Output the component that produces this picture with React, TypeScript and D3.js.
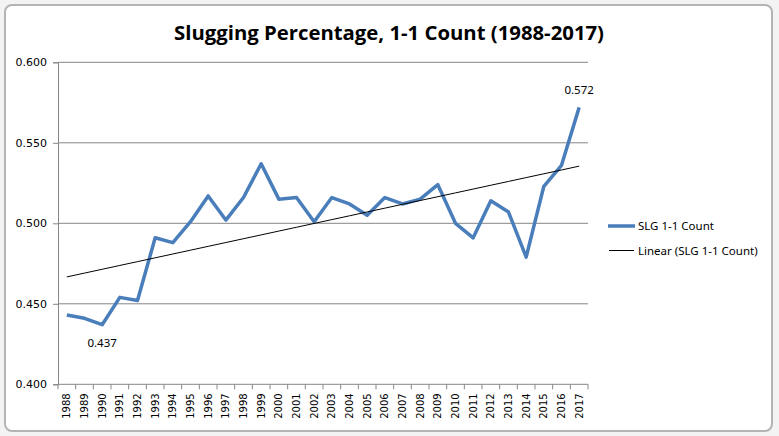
import React, { useEffect, useRef } from "react";
import * as d3 from "d3";

const years: string[] = [
  "1988", "1989", "1990", "1991", "1992", "1993", "1994", "1995", "1996", "1997",
  "1998", "1999", "2000", "2001", "2002", "2003", "2004", "2005", "2006", "2007",
  "2008", "2009", "2010", "2011", "2012", "2013", "2014", "2015", "2016", "2017",
];
const slg: number[] = [
  0.443, 0.441, 0.437, 0.454, 0.452, 0.491, 0.488, 0.501, 0.517, 0.502,
  0.516, 0.537, 0.515, 0.516, 0.501, 0.516, 0.512, 0.505, 0.516, 0.512,
  0.515, 0.524, 0.500, 0.491, 0.514, 0.507, 0.479, 0.523, 0.536, 0.572,
];
const yTicks: number[] = [0.4, 0.45, 0.5, 0.55, 0.6];
const labelled: string[] = ["1990", "2017"];
const title = "Slugging Percentage, 1-1 Count (1988-2017)";
const seriesName = "SLG 1-1 Count";
const trendName = "Linear (SLG 1-1 Count)";

const W = 779;
const H = 436;
const blue = "#4a7ebb";
const grid = "#868686";

export default function App() {
  const ref = useRef<SVGSVGElement>(null);

  useEffect(() => {
    const svg = d3.select(ref.current);
    svg.selectAll("*").remove();

    // spreadsheet behind the chart
    svg.append("rect").attr("width", W).attr("height", H).attr("fill", "#f3f3f3");
    svg.append("rect")
      .attr("x", 5).attr("y", 5).attr("width", 767).attr("height", 426)
      .attr("rx", 7)
      .attr("fill", "#fff").attr("stroke", "#b4b4b4").attr("stroke-width", 2);

    const x = d3.scaleBand().domain(years).range([58, 588]);
    const y = d3.scaleLinear().domain([0.4, 0.6]).range([384.3, 62.3]);
    const cx = (d: string) => (x(d) || 0) + x.bandwidth() / 2;

    // gridlines
    svg.append("g").selectAll("line")
      .data(yTicks.slice(1))
      .enter().append("line")
      .attr("x1", 58).attr("x2", 588)
      .attr("y1", d => y(d)).attr("y2", d => y(d))
      .attr("stroke", grid).attr("stroke-width", 1);

    // y axis
    const yAxis = svg.append("g").attr("transform", "translate(58,0)")
      .call(d3.axisLeft(y).tickValues(yTicks).tickFormat(d3.format(".3f")).tickSize(5).tickPadding(6));
    yAxis.select(".domain").attr("stroke", grid);
    yAxis.selectAll(".tick line").attr("stroke", grid);
    yAxis.selectAll("text")
      .attr("font-family", "DejaVu Sans, Verdana, sans-serif")
      .attr("font-size", 11).attr("fill", "#000");

    // x axis with ticks between categories
    const xg = svg.append("g");
    xg.append("line")
      .attr("x1", 58).attr("x2", 588)
      .attr("y1", y(0.4)).attr("y2", y(0.4))
      .attr("stroke", grid);
    const edges = years.map(d => x(d) || 0).concat([x.range()[1]]);
    xg.selectAll("line.tk")
      .data(edges)
      .enter().append("line").attr("class", "tk")
      .attr("x1", d => d).attr("x2", d => d)
      .attr("y1", y(0.4)).attr("y2", y(0.4) + 5)
      .attr("stroke", grid);
    xg.selectAll("text")
      .data(years)
      .enter().append("text")
      .attr("transform", d => `translate(${cx(d) + 3.5},${y(0.4) + 9}) rotate(-90)`)
      .attr("text-anchor", "end")
      .attr("font-family", "DejaVu Sans, Verdana, sans-serif")
      .attr("font-size", 10)
      .text(d => d);

    // linear trend (least squares on index)
    const n = slg.length;
    const xs = d3.range(n);
    const mx = d3.mean(xs) || 0;
    const my = d3.mean(slg) || 0;
    const b = d3.sum(xs, i => (i - mx) * (slg[i] - my)) / d3.sum(xs, i => (i - mx) ** 2);
    const a = my - b * mx;
    const trend = xs.map(i => a + b * i);

    const line = d3.line<number>()
      .x((_, i) => cx(years[i]))
      .y(d => y(d));

    svg.append("path")
      .datum(slg)
      .attr("d", line)
      .attr("fill", "none")
      .attr("stroke", blue)
      .attr("stroke-width", 3.5)
      .attr("stroke-linejoin", "round");

    svg.append("path")
      .datum(trend)
      .attr("d", line)
      .attr("fill", "none")
      .attr("stroke", "#000")
      .attr("stroke-width", 1);

    // data labels
    svg.selectAll("text.lbl")
      .data(labelled)
      .enter().append("text").attr("class", "lbl")
      .attr("x", d => cx(d))
      .attr("y", d => {
        const v = slg[years.indexOf(d)];
        return v === d3.min(slg) ? y(v) + 22 : y(v) - 13;
      })
      .attr("text-anchor", "middle")
      .attr("font-family", "Noto Sans, sans-serif")
      .attr("font-size", 11.5)
      .text(d => d3.format(".3f")(slg[years.indexOf(d)]));

    // title
    svg.append("text")
      .attr("x", 389).attr("y", 40)
      .attr("text-anchor", "middle")
      .attr("font-family", "Open Sans, sans-serif")
      .attr("font-weight", "bold")
      .attr("font-size", 19)
      .attr("textLength", 430)
      .attr("lengthAdjust", "spacingAndGlyphs")
      .text(title);

    // legend
    const lg = svg.append("g").attr("font-family", "Noto Sans, sans-serif").attr("font-size", 11.5);
    lg.append("line").attr("x1", 608).attr("x2", 635).attr("y1", 226).attr("y2", 226)
      .attr("stroke", blue).attr("stroke-width", 3.5);
    lg.append("text").attr("x", 638).attr("y", 230).text(seriesName);
    lg.append("line").attr("x1", 609).attr("x2", 634).attr("y1", 250.5).attr("y2", 250.5)
      .attr("stroke", "#000").attr("stroke-width", 1);
    lg.append("text").attr("x", 638).attr("y", 254.5).text(trendName);
  }, []);

  return (
    <div style={{ position: "absolute", left: 0, top: 0 }}>
      <svg ref={ref} width={W} height={H} style={{ display: "block" }} />
    </div>
  );
}
